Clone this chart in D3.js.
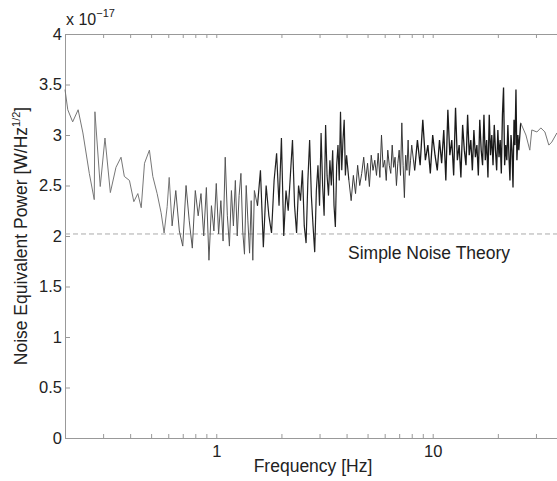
<!DOCTYPE html>
<html>
<head>
<meta charset="utf-8">
<script src="https://cdn.jsdelivr.net/npm/d3@7"></script>
<style>
body { margin: 0; background: #fff; }
text { font-family: "Liberation Sans", Arial, sans-serif; fill: #222; }
</style>
</head>
<body>
<svg id="nep" width="557" height="481"></svg>
<script>
// NEP spectrum, values in units of 1e-17 W/Hz^1/2
var freqLow = [0.2, 0.206, 0.217, 0.23, 0.242, 0.259, 0.273, 0.275, 0.291, 0.306, 0.324, 0.344, 0.363,
    0.376, 0.397, 0.416, 0.434, 0.45, 0.466, 0.491, 0.509, 0.533, 0.556, 0.574, 0.593, 0.606];
var nepLow = [3.45, 3.25, 3.13, 3.25, 3.02, 2.62, 2.36, 3.23, 2.49, 2.97, 2.43, 2.68, 2.78,
    2.59, 2.55, 2.34, 2.42, 2.28, 2.72, 2.85, 2.59, 2.42, 2.23, 2.03, 2.29, 2.58];

var freqMid1 = [0.625, 0.65, 0.675, 0.7, 0.725, 0.75, 0.775, 0.8, 0.825, 0.85, 0.875, 0.9, 0.925, 0.95,
    0.975, 1.0, 1.025, 1.05, 1.075, 1.1, 1.125, 1.15, 1.175, 1.2, 1.225, 1.25, 1.275, 1.3, 1.325, 1.35,
    1.375, 1.4, 1.425, 1.45, 1.475, 1.5];
var nepMid1 = [2.1, 2.45, 2.05, 1.9, 2.5, 2.15, 1.88, 2.45, 2.2, 2.42, 2.0, 2.48, 1.76, 2.3,
    2.05, 2.52, 2.02, 2.35, 1.95, 2.78, 2.2, 1.9, 2.45, 2.1, 2.55, 2.0, 2.4, 2.62, 2.05, 1.82,
    2.5, 2.15, 1.83, 2.35, 1.76, 2.45];

var freqMid2 = [1.55, 1.6, 1.65, 1.7, 1.75, 1.8, 1.85, 1.9, 1.95, 2.0, 2.05, 2.1, 2.15, 2.2, 2.25, 2.3,
    2.35, 2.4, 2.45, 2.5, 2.55, 2.6, 2.65, 2.7, 2.75, 2.8, 2.85, 2.9, 2.95, 3.0, 3.05, 3.1, 3.15, 3.2,
    3.25, 3.3, 3.35, 3.4, 3.45, 3.5, 3.55, 3.6, 3.65, 3.7, 3.75, 3.8, 3.85, 3.9, 3.95, 4.0];
var nepMid2 = [2.3, 2.65, 1.89, 2.5, 2.2, 2.03, 2.55, 2.82, 2.3, 2.97, 2.0, 2.45, 2.25, 2.6, 2.95, 2.3,
    2.03, 2.5, 2.35, 2.65, 2.1, 1.93, 2.55, 2.95, 2.4, 2.1, 1.84, 2.45, 2.7, 2.3, 3.02, 2.5, 2.2, 3.1,
    2.6, 2.4, 2.75, 2.5, 2.85, 2.3, 2.09, 2.7, 2.9, 2.55, 3.23, 2.65, 2.95, 3.15, 2.6, 2.8];

var freqMid3 = [4.1, 4.2, 4.3, 4.4, 4.5, 4.6, 4.7, 4.8, 4.9, 5.0, 5.1, 5.2, 5.3, 5.4, 5.5, 5.6, 5.7, 5.8,
    5.9, 6.0, 6.1, 6.2, 6.3, 6.4, 6.5, 6.6, 6.7, 6.8, 6.9, 7.0, 7.1, 7.2, 7.3, 7.4, 7.5, 7.6, 7.7, 7.8,
    7.9, 8.0];
var nepMid3 = [2.55, 2.35, 2.6, 2.42, 2.7, 2.5, 2.62, 2.78, 2.55, 2.72, 2.49, 2.8, 2.65, 2.75, 2.6, 2.82,
    2.58, 3.0, 2.68, 2.75, 2.55, 2.85, 2.7, 2.62, 2.9, 2.68, 2.78, 2.5, 2.72, 2.85, 2.6, 3.12, 2.7, 2.38,
    2.8, 2.65, 2.95, 2.6, 2.75, 2.9];

var freqHigh = [8.25, 8.5, 8.75, 9.0, 9.25, 9.5, 9.75, 10.0, 10.25, 10.5, 10.75, 11.0, 11.25, 11.5,
    11.75, 12.0, 12.25, 12.5, 12.75, 13.0, 13.25, 13.5, 13.75, 14.0, 14.25, 14.5, 14.75, 15.0, 15.25,
    15.5, 15.75, 16.0, 16.25, 16.5, 16.75, 17.0, 17.25, 17.5, 17.75, 18.0, 18.25, 18.5, 18.75, 19.0,
    19.25, 19.5, 19.75, 20.0, 20.25, 20.5, 20.75, 21.0, 21.25, 21.5, 21.75, 22.0, 22.25, 22.5, 22.75,
    23.0, 23.25, 23.5, 23.75, 24.0, 24.25, 24.5, 24.75, 25.0];
var nepHigh = [2.65, 2.95, 2.7, 3.15, 2.75, 2.9, 2.62, 3.0, 2.8, 2.65, 2.95, 2.72, 3.05, 2.55,
    3.25, 2.8, 2.95, 2.6, 3.27, 2.75, 2.9, 2.58, 3.1, 2.85, 2.7, 3.2, 2.8, 2.95, 2.65,
    3.05, 2.78, 2.9, 2.6, 3.15, 2.85, 2.7, 3.2, 2.75, 2.95, 2.58, 3.2, 2.8, 3.0, 2.7,
    3.1, 2.85, 2.65, 3.05, 2.78, 2.95, 2.62, 3.2, 3.47, 2.7, 2.9, 2.75, 3.1, 2.8, 2.55,
    3.0, 2.85, 2.48, 3.15, 2.9, 3.45, 2.75, 3.0, 2.85];

var freqTail = [25.5, 26.96, 28.1, 28.7, 30.3, 31.6, 33.0, 34.4, 35.5, 37.5, 38.7];
var nepTail = [3.12, 3.0, 2.85, 3.05, 3.03, 3.07, 3.03, 2.9, 2.93, 3.02, 2.95];

var theoryLevel = 2.02;
var yTicks = [0, 0.5, 1, 1.5, 2, 2.5, 3, 3.5, 4];
var xTicks = [0.2, 0.3, 0.4, 0.5, 0.6, 0.7, 0.8, 0.9, 1, 2, 3, 4, 5, 6, 7, 8, 9, 10, 20, 30, 40];
var xLabels = [1, 10];

var svg = d3.select("#nep"),
    plotLeft = 65, plotTop = 34, plotRight = 563, plotBottom = 438;

var x = d3.scaleLog().domain([0.2, 40]).range([plotLeft, plotRight]);
var y = d3.scaleLinear().domain([0, 4]).range([plotBottom, plotTop]);

function pairs(fs, vs) {
    return fs.map(function (f, i) { return [f, vs[i]]; });
}

// segments of the spectrum, each drawn up to the first point of the next one
var segments = [
    {pts: pairs(freqLow, nepLow), color: "#777", w: 1},
    {pts: pairs(freqMid1, nepMid1), color: "#555", w: 1},
    {pts: pairs(freqMid2, nepMid2), color: "#222", w: 1.2},
    {pts: pairs(freqMid3, nepMid3), color: "#3a3a3a", w: 1},
    {pts: pairs(freqHigh, nepHigh), color: "#1a1a1a", w: 1.3},
    {pts: pairs(freqTail, nepTail), color: "#777", w: 1}
];

// axes
var xAxisB = d3.axisBottom(x).tickValues(xTicks).tickSizeInner(-4).tickSizeOuter(0).tickPadding(7)
    .tickFormat(function (d) { return xLabels.indexOf(d) >= 0 ? d : ""; });
var xAxisT = d3.axisTop(x).tickValues(xTicks).tickSizeInner(-4).tickSizeOuter(0)
    .tickFormat("");
var yAxis = d3.axisLeft(y).tickValues(yTicks).tickSizeInner(-5).tickSizeOuter(0).tickPadding(3)
    .tickFormat(function (d) { return d; });

function style(g) {
    g.select(".domain").attr("stroke", "#999");
    g.selectAll(".tick line").attr("stroke", "#999");
    g.selectAll(".tick text").attr("fill", "#222").style("font-size", "16.5px")
        .style("font-family", "'Liberation Sans', Arial, sans-serif");
}

svg.append("g").attr("transform", "translate(0," + plotBottom + ")").call(xAxisB).call(style);
svg.append("g").attr("transform", "translate(0," + plotTop + ")").call(xAxisT).call(style);
svg.append("g").attr("transform", "translate(" + plotLeft + ",0)").call(yAxis).call(style);

// theory line
svg.append("line")
    .attr("x1", plotLeft).attr("x2", plotRight)
    .attr("y1", y(theoryLevel)).attr("y2", y(theoryLevel))
    .attr("stroke", "#aaa").attr("stroke-dasharray", "5,3");

// measured NEP
var line = d3.line().x(function (d) { return x(d[0]); }).y(function (d) { return y(d[1]); });

segments.forEach(function (s, i) {
    var pts = i < segments.length - 1 ? s.pts.concat([segments[i + 1].pts[0]]) : s.pts;
    svg.append("path")
        .datum(pts)
        .attr("fill", "none")
        .attr("stroke", s.color)
        .attr("stroke-width", s.w)
        .attr("d", line);
});

svg.append("text").attr("x", 348).attr("y", 259).style("font-size", "17.5px")
    .text("Simple Noise Theory");

// labels
svg.append("text").attr("x", 313).attr("y", 472).attr("text-anchor", "middle")
    .style("font-size", "17.5px").text("Frequency [Hz]");

var yl = svg.append("text").attr("transform", "translate(27,236) rotate(-90)")
    .attr("text-anchor", "middle").style("font-size", "17.5px");
yl.append("tspan").text("Noise Equivalent Power [W/Hz");
yl.append("tspan").attr("dy", -7).style("font-size", "11px").text("1/2");
yl.append("tspan").attr("dy", 7).text("]");

var ex = svg.append("text").attr("x", 66).attr("y", 25).style("font-size", "16px");
ex.append("tspan").text("x 10");
ex.append("tspan").attr("dy", -8).style("font-size", "11px").text("\u221217");
</script>
</body>
</html>
